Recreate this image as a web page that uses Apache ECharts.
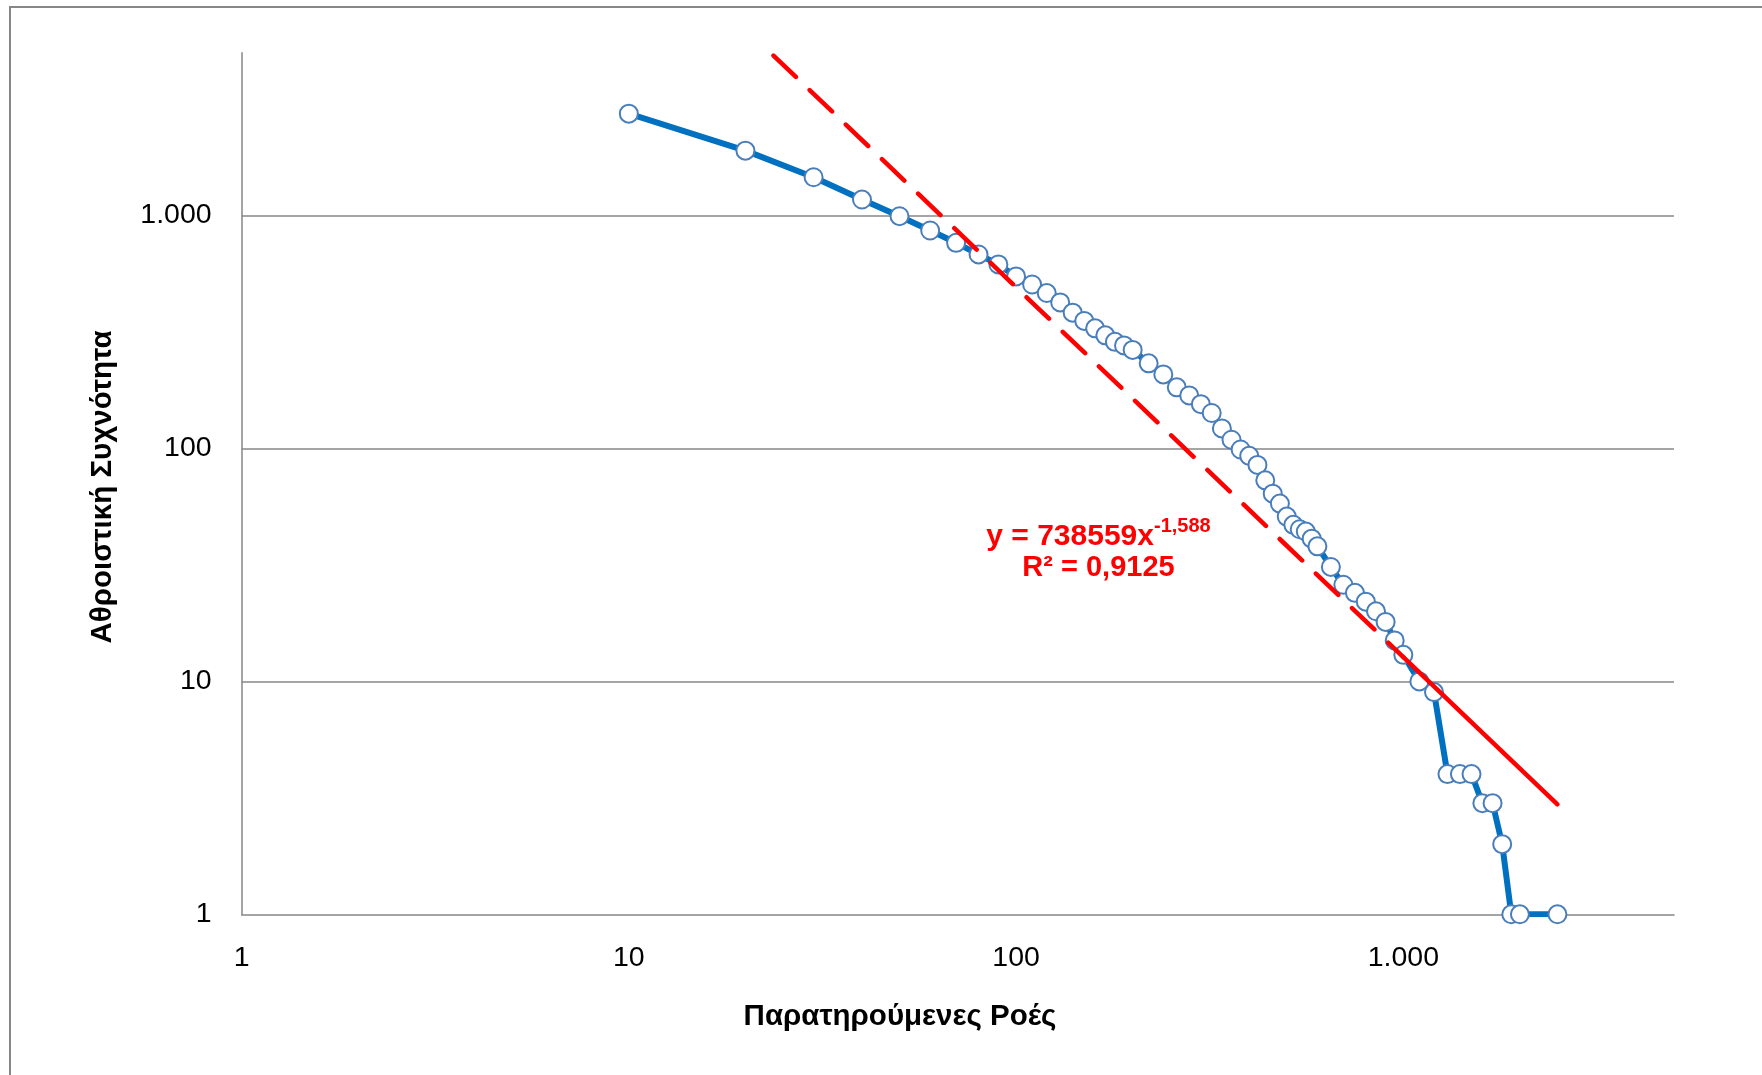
<!DOCTYPE html>
<html><head><meta charset="utf-8">
<script src="https://cdn.jsdelivr.net/npm/echarts@6/dist/echarts.min.js"></script>
<style>html,body{margin:0;padding:0;background:#fff}#c{width:1762px;height:1075px}</style>
</head><body><div id="c"></div>
<script>
// ---- data ----
const flows = [10,20,30,40,50,60,70,80,90,100,110,120,130,140,150,160,170,180,190,200,
  220,240,260,280,300,320,340,360,380,400,420,440,460,480,500,520,540,560,580,600,
  650,700,750,800,850,900,950,1000,1100,1200,1300,1400,1500,1600,1700,1800,1900,2000,2500];
const cumFreq = [2740,1900,1461,1172,994,863,764,681,617,548,506,465,424,383,353,328,306,287,277,265,
  232,208,183,169,155,142,122,109,99,93,85,73,64,58,51,47,45,44,41,38,
  31,26,24,22,20,18,15,13,10,9,4,4,4,3,3,2,1,1,1];
const xTickValues = [1,10,100,1000];
const xTickLabels = ['1','10','100','1.000'];
const yTickValues = [1,10,100,1000];
const yTickLabels = ['1','10','100','1.000'];
const trendCoef = 738559;
const trendExp = -1.588;
const trendDashedX = [10, 1000];
const trendSolidX = [1000, 2500];
const xTitle = 'Παρατηρούμενες Ροές';
const yTitle = 'Αθροιστική Συχνότητα';
const trendText1 = 'y = 738559x';
const trendTextSup = '-1,588';
const trendText2 = 'R² = 0,9125';

// ---- build ----
const series1 = flows.map((x, i) => [x, cumFreq[i]]);
const trendPts = xs => xs.map(x => [x, trendCoef * Math.pow(x, trendExp)]);
function fmt(vals, labels) {
  return v => {
    const i = vals.findIndex(t => Math.abs(Math.log10(v) - Math.log10(t)) < 1e-6);
    return i >= 0 ? labels[i] : '';
  };
}
const gridColor = '#878787';
const chart = echarts.init(document.getElementById('c'), null, {renderer: 'canvas'});
chart.setOption({
  backgroundColor: '#ffffff',
  animation: false,
  grid: {left: 241.6, right: 88, top: 52.8, bottom: 160.7, containLabel: false},
  xAxis: {
    type: 'log', logBase: 10, min: 1, max: 5000,
    axisLine: {show: true, lineStyle: {color: gridColor, width: 1.5}},
    axisTick: {show: false},
    splitLine: {show: false},
    axisLabel: {
      formatter: fmt(xTickValues, xTickLabels), margin: 29, showMaxLabel: false,
      fontFamily: 'Liberation Sans', fontSize: 28.5, color: '#000'
    }
  },
  yAxis: {
    type: 'log', logBase: 10, min: 1, max: 5000,
    axisLine: {show: true, lineStyle: {color: gridColor, width: 1.5}},
    axisTick: {show: false},
    splitLine: {show: true, showMinLine: false, showMaxLine: false, lineStyle: {color: gridColor, width: 1.5}},
    axisLabel: {
      formatter: fmt(yTickValues, yTickLabels), margin: 30, showMaxLabel: false,
      fontFamily: 'Liberation Sans', fontSize: 28.5, color: '#000'
    }
  },
  series: [
    {
      type: 'line', data: series1, z: 2,
      symbol: 'circle', symbolSize: 18,
      itemStyle: {color: '#ffffff', borderColor: '#4a7ebb', borderWidth: 2},
      lineStyle: {color: '#0070c0', width: 6},
      clip: true
    },
    {
      type: 'line', data: trendPts(trendDashedX), z: 3, symbol: 'none', clip: true,
      lineStyle: {color: '#ff0000', width: 4.5, type: [31, 19], cap: 'round'}
    },
    {
      type: 'line', data: trendPts(trendSolidX), z: 3, symbol: 'none', clip: true,
      lineStyle: {color: '#ff0000', width: 4.5, type: 'solid', cap: 'round'}
    }
  ],
  graphic: [
    {type: 'rect', silent: true, shape: {x: 10, y: 7, width: 1800, height: 1100},
     style: {fill: 'none', stroke: '#878787', lineWidth: 2}},
    {type: 'text', x: 103, y: 487, rotation: Math.PI / 2,
     style: {text: yTitle, font: 'bold 29.5px "Liberation Sans"', fill: '#000', align: 'center', verticalAlign: 'middle'}},
    {type: 'text', x: 900, y: 1017,
     style: {text: xTitle, font: 'bold 29.5px "Liberation Sans"', fill: '#000', align: 'center', verticalAlign: 'middle'}},
    {type: 'text', x: 1098.5, y: 534,
     style: {
       text: '{m|' + trendText1 + '}{s|' + trendTextSup + '}',
       align: 'center', verticalAlign: 'middle',
       rich: {
         m: {fontFamily: 'Liberation Sans', fontWeight: 'bold', fontSize: 30, fill: '#ff0000', lineHeight: 36, verticalAlign: 'bottom'},
         s: {fontFamily: 'Liberation Sans', fontWeight: 'bold', fontSize: 20, fill: '#ff0000', lineHeight: 23, verticalAlign: 'top'}
       }
     }},
    {type: 'text', x: 1098.5, y: 568,
     style: {text: trendText2, font: 'bold 29px "Liberation Sans"', fill: '#ff0000', align: 'center', verticalAlign: 'middle'}}
  ]
});
</script></body></html>
